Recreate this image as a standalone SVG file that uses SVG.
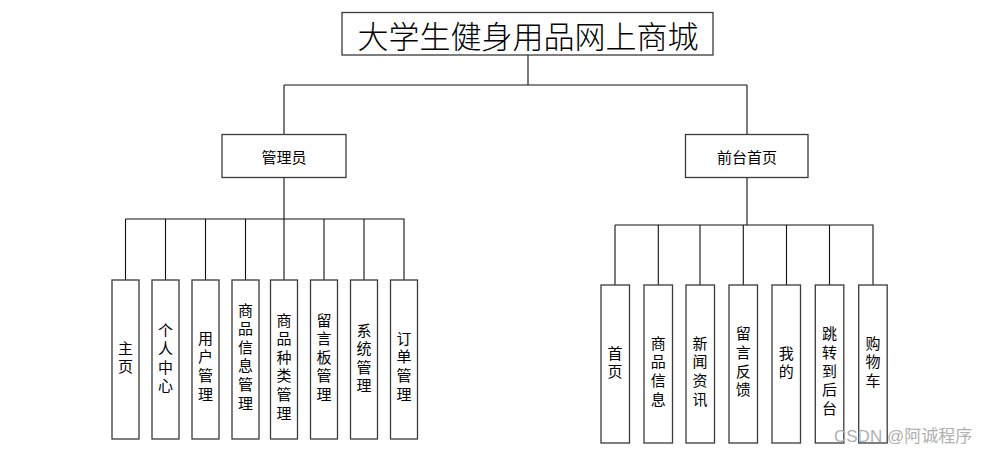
<svg xmlns="http://www.w3.org/2000/svg" width="988" height="454" viewBox="0 0 988 454">
<style>
.box{fill:#fff;stroke:#3a3a3a;stroke-width:1.3}
.ln{fill:none;stroke:#111;stroke-width:1.1}
.t{font-family:"Noto Sans CJK SC","Liberation Sans",sans-serif;font-size:15px;fill:#000;text-anchor:middle;dominant-baseline:central}
.v{font-family:"Noto Sans CJK SC","Liberation Sans",sans-serif;font-size:15px;fill:#000;text-anchor:middle;writing-mode:vertical-rl;letter-spacing:3.6px}
.title{font-family:"Noto Sans CJK SC",serif;font-size:31px;font-weight:300;fill:#000;text-anchor:middle;dominant-baseline:central}
.wm{font-family:"Liberation Sans","Noto Sans CJK SC",sans-serif;font-size:17px;fill:#b0b0b0}
</style>
<rect width="988" height="454" fill="#fff"/>
<g id="connectors">
<path class="ln" d="M528 55V85M284 85H747M284 85V134M747 85V134"/>
<path class="ln" d="M284 177V219M125.5 219H404.5M125.5 219V280M165.5 219V280M205.5 219V280M245.5 219V280M284 219V280M324 219V280M364 219V280M404 219V280"/>
<path class="ln" d="M747 177V225M615 225H873.5M615 225V285M658.3 225V285M700 225V285M743.3 225V285M786.5 225V285M829.5 225V285M873 225V285"/>
</g>
<g id="root"><rect class="box" x="342" y="12.5" width="371" height="42.5"/><text class="title" x="528" y="34">大学生健身用品网上商城</text></g>
<g id="admin"><rect class="box" x="222" y="134.5" width="124" height="43"/><text class="t" x="284" y="156">管理员</text></g>
<g id="front"><rect class="box" x="685.5" y="134.5" width="122.5" height="43"/><text class="t" x="747" y="156">前台首页</text></g>

<g id="a1"><rect class="box" x="112" y="280" width="27" height="159"/><text class="v" x="125.5" y="359.3">主页</text></g>
<g id="a2"><rect class="box" x="152" y="280" width="27" height="159"/><text class="v" x="165.5" y="359.6">个人中心</text></g>
<g id="a3"><rect class="box" x="192" y="280" width="27" height="159"/><text class="v" x="205.5" y="367.9">用户管理</text></g>
<g id="a4"><rect class="box" x="232" y="280" width="27" height="159"/><text class="v" x="245.5" y="358.2">商品信息管理</text></g>
<g id="a5"><rect class="box" x="270.5" y="280" width="27" height="159"/><text class="v" x="284" y="368.2">商品种类管理</text></g>
<g id="a6"><rect class="box" x="310.5" y="280" width="27" height="159"/><text class="v" x="324" y="358.9">留言板管理</text></g>
<g id="a7"><rect class="box" x="350.5" y="280" width="27" height="159"/><text class="v" x="364" y="359.6">系统管理</text></g>
<g id="a8"><rect class="box" x="390.5" y="280" width="27" height="159"/><text class="v" x="404" y="367.9">订单管理</text></g>

<g id="f1"><rect class="box" x="601" y="285" width="28.5" height="158"/><text class="v" x="615" y="364.3">首页</text></g>
<g id="f2"><rect class="box" x="644" y="285" width="28.5" height="158"/><text class="v" x="658.3" y="372.9">商品信息</text></g>
<g id="f3"><rect class="box" x="686" y="285" width="28.5" height="158"/><text class="v" x="700" y="372.9">新闻资讯</text></g>
<g id="f4"><rect class="box" x="729" y="285" width="28.5" height="158"/><text class="v" x="743.3" y="363.4">留言反馈</text></g>
<g id="f5"><rect class="box" x="772" y="285" width="28.5" height="158"/><text class="v" x="786.3" y="364.3">我的</text></g>
<g id="f6"><rect class="box" x="815.3" y="285" width="28.5" height="158"/><text class="v" x="829.5" y="372.7">跳转到后台</text></g>
<g id="f7"><rect class="box" x="858.7" y="285" width="28.5" height="158"/><text class="v" x="873" y="363.6">购物车</text></g>

<text class="wm" x="834" y="442">CSDN @阿诚程序</text>
</svg>
